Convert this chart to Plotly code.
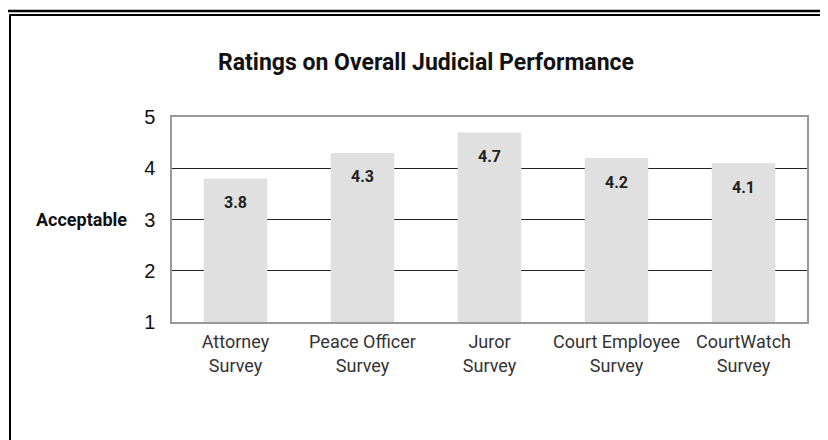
import plotly.graph_objects as go

categories = ["Attorney<br>Survey", "Peace Officer<br>Survey", "Juror<br>Survey",
              "Court Employee<br>Survey", "CourtWatch<br>Survey"]
values = [3.8, 4.3, 4.7, 4.2, 4.1]
value_labels = ["3.8", "4.3", "4.7", "4.2", "4.1"]
y_ticks = [1, 2, 3, 4, 5]

W, H = 828, 440
L, R, T, B = 164, 29, 109, 126
PW, PH = W - L - R, H - T - B

def px_x(p):
    return (p - L) / PW

def px_y(p):
    return (H - B - p) / PH

NARROW = "Roboto, Liberation Sans, Arial, sans-serif"
REG = "Liberation Sans, Arial, sans-serif"

fig = go.Figure()
fig.add_trace(go.Bar(
    x=categories, y=values, base=0,
    marker=dict(color="#e0e0e0", line=dict(width=0)),
    hoverinfo="skip",
))

annotations = []
for c, v, t in zip(categories, values, value_labels):
    annotations.append(dict(
        x=c, y=v, xref="x", yref="y", text="<b>" + t + "</b>", showarrow=False,
        yanchor="middle", yshift=-24,
        font=dict(family=NARROW, size=16, color="#222222"),
    ))
annotations.append(dict(
    x=px_x(121), y=3, xref="paper", yref="y", text="<b>Acceptable</b>", showarrow=False,
    xanchor="right", yanchor="middle",
    font=dict(family=NARROW, size=18, color="#111111"),
))

shapes = [
    dict(type="line", xref="paper", yref="paper", x0=px_x(2), x1=px_x(2), y0=px_y(6.5), y1=px_y(460),
         line=dict(color="black", width=2)),
    dict(type="line", xref="paper", yref="paper", x0=px_x(-3), x1=px_x(860), y0=px_y(3), y1=px_y(3),
         line=dict(color="black", width=2.5)),
    dict(type="line", xref="paper", yref="paper", x0=px_x(1.5), x1=px_x(860), y0=px_y(7), y1=px_y(7),
         line=dict(color="black", width=2)),
]

fig.update_layout(
    width=W, height=H,
    margin=dict(l=L, r=R, t=T, b=B),
    paper_bgcolor="white", plot_bgcolor="white",
    showlegend=False,
    bargap=0.5,
    title=dict(
        text="<b>Ratings on Overall Judicial Performance</b>",
        x=418 / W, xanchor="center", xref="container",
        y=(H - 54) / H, yanchor="middle", yref="container",
        font=dict(family=NARROW, size=23, color="#111111"),
    ),
    xaxis=dict(
        showgrid=False, showline=True, linecolor="#999999", linewidth=1.5, mirror=True,
        ticks="", tickfont=dict(family=NARROW, size=18, color="#333333"),
        ticklabelstandoff=3,
    ),
    yaxis=dict(
        range=[1, 5], tickvals=y_ticks, ticktext=[str(v) for v in y_ticks],
        showgrid=True, gridcolor="#222222", gridwidth=1.2,
        showline=True, linecolor="#999999", linewidth=1.5, mirror=True,
        zeroline=False, ticks="",
        tickfont=dict(family=REG, size=20, color="#111111"),
        ticklabelstandoff=11,
    ),
    annotations=annotations,
    shapes=shapes,
)

fig.write_html("out.html")
